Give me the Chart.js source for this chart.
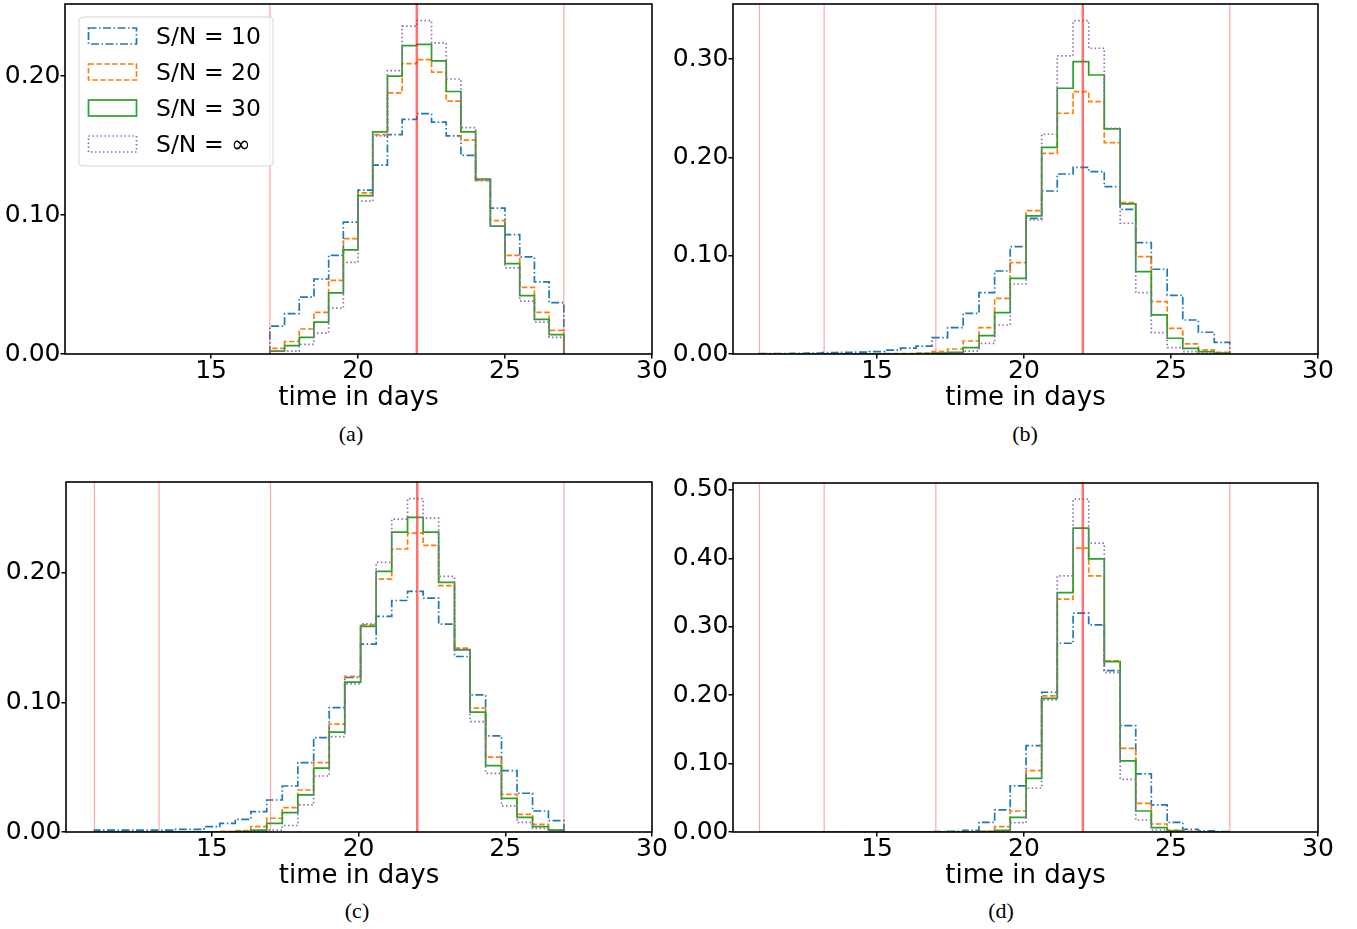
<!DOCTYPE html>
<html>
<head>
<meta charset="utf-8">
<script src="https://cdn.jsdelivr.net/npm/chart.js@4.4.0/dist/chart.umd.min.js"></script>
<style>
body { margin: 0; background: #fff; width: 1357px; height: 929px; position: relative; overflow: hidden; }
canvas { position: absolute; }
.cap { position: absolute; font-family: "Liberation Serif", "Times New Roman", serif; font-size: 22px; line-height: 22px; transform: translateX(-50%); color: #000; }
</style>
</head>
<body>
<canvas id="panel-a" width="668" height="420" style="left:0;top:0"></canvas>
<canvas id="panel-b" width="689" height="420" style="left:668px;top:0"></canvas>
<canvas id="panel-c" width="668" height="420" style="left:0;top:478px"></canvas>
<canvas id="panel-d" width="689" height="420" style="left:668px;top:478px"></canvas>
<div class="cap" style="left:351px;top:423px">(a)</div>
<div class="cap" style="left:1025px;top:423px">(b)</div>
<div class="cap" style="left:357px;top:900px">(c)</div>
<div class="cap" style="left:1001px;top:900px">(d)</div>
<script>
// bin edges (days)
const edgesA = [17, 17.5, 18, 18.5, 19, 19.5, 20, 20.5, 21, 21.5, 22, 22.5, 23, 23.5, 24, 24.5, 25, 25.5, 26, 26.5, 27];
const edgesBCD = [11, 11.53, 12.07, 12.6, 13.13, 13.67, 14.2, 14.73, 15.27, 15.8, 16.33, 16.87, 17.4, 17.93, 18.47, 19,
    19.53, 20.07, 20.6, 21.13, 21.67, 22.2, 22.73, 23.27, 23.8, 24.33, 24.87, 25.4, 25.93, 26.47, 27];

const seriesLabels = ['S/N = 10', 'S/N = 20', 'S/N = 30', 'S/N = \u221e'];

// (a)
const sn10A = [0.020, 0.029, 0.041, 0.054, 0.071, 0.095, 0.118, 0.136, 0.158, 0.169, 0.173, 0.167, 0.157, 0.143, 0.125, 0.105, 0.086, 0.070, 0.052, 0.037];
const sn20A = [0.004, 0.009, 0.018, 0.030, 0.053, 0.083, 0.116, 0.158, 0.188, 0.209, 0.212, 0.203, 0.182, 0.154, 0.125, 0.096, 0.071, 0.048, 0.030, 0.017];
const sn30A = [0.002, 0.006, 0.012, 0.023, 0.044, 0.075, 0.114, 0.160, 0.200, 0.222, 0.223, 0.211, 0.189, 0.160, 0.126, 0.092, 0.065, 0.042, 0.025, 0.014];
const snInfA = [0.002, 0.002, 0.007, 0.015, 0.033, 0.066, 0.110, 0.157, 0.204, 0.236, 0.240, 0.224, 0.198, 0.163, 0.126, 0.092, 0.062, 0.038, 0.023, 0.012];

// (b)
const sn10B = [0.0005, 0.0005, 0.0007, 0.001, 0.0013, 0.0017, 0.002, 0.0025, 0.004, 0.006, 0.008, 0.0166, 0.0268, 0.0414, 0.0624,
    0.0844, 0.1092, 0.138, 0.1658, 0.1831, 0.1899, 0.1855, 0.1702, 0.1472, 0.1132, 0.0862, 0.0597, 0.0346, 0.0221, 0.0119];
const sn20B = [0, 0, 0, 0, 0, 0, 0, 0, 0.0003, 0.0005, 0.001, 0.0024, 0.0051, 0.0132, 0.0268,
    0.0566, 0.0929, 0.1458, 0.2041, 0.2449, 0.2669, 0.2567, 0.215, 0.1539, 0.099, 0.0532, 0.0261, 0.0102, 0.0041, 0.0017];
const sn30B = [0, 0, 0, 0, 0, 0, 0, 0, 0, 0, 0.0003, 0.0008, 0.0017, 0.0064, 0.0187,
    0.042, 0.077, 0.1404, 0.2102, 0.2703, 0.2974, 0.2838, 0.2289, 0.1526, 0.0837, 0.0397, 0.016, 0.0058, 0.0024, 0.001];
const snInfB = [0, 0, 0, 0, 0, 0, 0, 0, 0, 0, 0, 0.0003, 0.001, 0.003, 0.0109,
    0.0295, 0.0712, 0.1363, 0.2235, 0.3032, 0.339, 0.311, 0.2296, 0.133, 0.0624, 0.0217, 0.0064, 0.0024, 0.001, 0.0005];

// (c)
const sn10C = [0.0015, 0.0015, 0.0015, 0.0015, 0.0015, 0.002, 0.002, 0.0041, 0.0067, 0.0098, 0.0157, 0.0247, 0.0355, 0.0535, 0.0728,
    0.096, 0.1192, 0.1449, 0.1663, 0.1786, 0.1856, 0.1804, 0.1604, 0.1354, 0.1058, 0.0741, 0.0473, 0.0299, 0.0162, 0.0087];
const sn20C = [0, 0, 0, 0, 0, 0, 0, 0, 0.0005, 0.001, 0.0041, 0.0106, 0.0188, 0.0324, 0.0535,
    0.0832, 0.12, 0.1598, 0.1951, 0.2183, 0.2306, 0.2211, 0.19, 0.1418, 0.0955, 0.0577, 0.0291, 0.0136, 0.0059, 0.0015];
const sn30C = [0, 0, 0, 0, 0, 0, 0, 0, 0, 0.0005, 0.0015, 0.0067, 0.0149, 0.0286, 0.0492,
    0.077, 0.1156, 0.1586, 0.201, 0.2314, 0.2427, 0.2314, 0.1925, 0.1405, 0.0924, 0.0512, 0.026, 0.0113, 0.0041, 0.0015];
const snInfC = [0, 0, 0, 0, 0, 0, 0, 0, 0, 0, 0.0005, 0.0015, 0.005, 0.021, 0.0432,
    0.0736, 0.1143, 0.1606, 0.208, 0.2414, 0.2571, 0.2422, 0.1972, 0.1411, 0.0852, 0.0453, 0.0201, 0.0075, 0.0028, 0.001];

// (d)
const sn10D = [0, 0, 0, 0, 0, 0, 0, 0, 0, 0, 0, 0.0005, 0.001, 0.0024, 0.0141,
    0.0322, 0.0673, 0.1262, 0.2042, 0.2758, 0.3197, 0.3026, 0.2359, 0.1555, 0.0848, 0.0395, 0.0141, 0.0039, 0.0015, 0.0005];
const sn20D = [0, 0, 0, 0, 0, 0, 0, 0, 0, 0, 0, 0, 0, 0.0005, 0.001,
    0.0078, 0.0307, 0.0897, 0.1988, 0.3402, 0.4147, 0.3743, 0.25, 0.1223, 0.0419, 0.0117, 0.0029, 0.001, 0, 0];
const sn30D = [0, 0, 0, 0, 0, 0, 0, 0, 0, 0, 0, 0, 0, 0, 0.0005,
    0.0024, 0.0214, 0.0785, 0.1954, 0.3499, 0.444, 0.3991, 0.249, 0.1038, 0.0307, 0.0063, 0.0015, 0, 0, 0];
const snInfD = [0, 0, 0, 0, 0, 0, 0, 0, 0, 0, 0, 0, 0, 0, 0,
    0.001, 0.0136, 0.0639, 0.193, 0.3743, 0.4864, 0.422, 0.2329, 0.077, 0.0175, 0.0029, 0.0005, 0, 0, 0];

const xTicks = [15, 20, 25, 30];
const yTicksA = [0, 0.1, 0.2];
const yTicksB = [0, 0.1, 0.2, 0.3];
const yTicksC = [0, 0.1, 0.2];
const yTicksD = [0, 0.1, 0.2, 0.3, 0.4, 0.5];

// marker lines (days)
const truthDay = 22;
const windowDaysA = [17, 27];
const windowDaysB = [11, 13.2, 17, 27];

const seriesColors = ['#1f77b4', '#ff7f0e', '#2ca02c', '#9467bd'];
const seriesDashes = [[8, 2.5, 1.5, 2.5], [5.5, 2.4], [], [1.5, 2.5]];

Chart.defaults.font.family = '"DejaVu Sans", sans-serif';
Chart.defaults.color = '#000';

function histPoints(edges, values) {
    var pts = [{x: edges[0], y: 0}];
    for (var i = 0; i < values.length; i++) {
        pts.push({x: edges[i], y: values[i]});
    }
    pts.push({x: edges[edges.length - 1], y: 0});
    return pts;
}

function drawLegend(chart) {
    const ctx = chart.ctx, a = chart.chartArea;
    const x0 = a.left + 14, y0 = a.top + 13;
    ctx.save();
    ctx.beginPath();
    ctx.roundRect(x0, y0, 194, 149, 4);
    ctx.fillStyle = 'rgba(255,255,255,0.8)';
    ctx.fill();
    ctx.strokeStyle = 'rgba(204,204,204,0.8)';
    ctx.lineWidth = 1;
    ctx.stroke();
    chart.data.datasets.forEach(function (ds, i) {
        const cy = y0 + 19 + i * 36;
        ctx.setLineDash(ds.borderDash);
        ctx.strokeStyle = ds.borderColor;
        ctx.lineWidth = 1.7;
        ctx.strokeRect(x0 + 9.5, cy - 8, 48, 16);
        ctx.setLineDash([]);
        ctx.fillStyle = '#000';
        ctx.font = '23.5px "DejaVu Sans"';
        ctx.textBaseline = 'middle';
        ctx.textAlign = 'left';
        ctx.fillText(ds.label, x0 + 77, cy + 2);
    });
    ctx.restore();
}

const panelDecor = {
    id: 'panelDecor',
    afterDatasetsDraw(chart, args, opts) {
        const ctx = chart.ctx, a = chart.chartArea, xs = chart.scales.x;
        ctx.save();
        ctx.beginPath();
        ctx.rect(a.left, a.top, a.width, a.height);
        ctx.clip();
        opts.windows.forEach(function (d) {
            const px = xs.getPixelForValue(d);
            ctx.strokeStyle = 'rgba(255,60,60,0.45)';
            ctx.lineWidth = 1.2;
            ctx.beginPath(); ctx.moveTo(px, a.top); ctx.lineTo(px, a.bottom); ctx.stroke();
        });
        const tx = xs.getPixelForValue(opts.truth);
        ctx.strokeStyle = 'rgba(255,40,40,0.65)';
        ctx.lineWidth = 2.5;
        ctx.beginPath(); ctx.moveTo(tx, a.top); ctx.lineTo(tx, a.bottom); ctx.stroke();
        ctx.restore();
        if (opts.legend) drawLegend(chart);
        ctx.save();
        ctx.strokeStyle = '#000';
        ctx.lineWidth = 1.6;
        ctx.strokeRect(a.left, a.top, a.width, a.height);
        ctx.restore();
    }
};

function makePanel(id, edges, series, yMax, yTicks, xMin, pad, windows, legend) {
    const canvas = document.getElementById(id);
    const W = canvas.width, H = canvas.height;
    const datasets = series.map(function (vals, i) {
        return {
            label: seriesLabels[i],
            data: histPoints(edges, vals),
            borderColor: seriesColors[i],
            backgroundColor: seriesColors[i],
            borderDash: seriesDashes[i],
            borderWidth: 1.7,
            pointRadius: 0,
            stepped: true,
            tension: 0,
            fill: false,
            order: 3 - i
        };
    });
    return new Chart(canvas.getContext('2d'), {
        type: 'line',
        data: {datasets: datasets},
        plugins: [panelDecor],
        options: {
            responsive: false,
            animation: false,
            events: [],
            layout: {padding: {left: 0, top: pad.top, right: W - pad.right, bottom: 0}},
            plugins: {
                legend: {display: false},
                tooltip: {enabled: false},
                panelDecor: {windows: windows, truth: truthDay, legend: legend}
            },
            scales: {
                x: {
                    type: 'linear',
                    min: xMin,
                    max: 30,
                    afterBuildTicks: function (s) { s.ticks = xTicks.map(function (v) { return {value: v}; }); },
                    afterFit: function (s) { s.height = H - pad.bottom; s.paddingLeft = 0; s.paddingRight = 0; },
                    ticks: {font: {size: 25}, padding: -2, maxRotation: 0, callback: function (v) { return String(v); }},
                    grid: {display: true, drawOnChartArea: false, drawTicks: true, tickLength: 4.5, color: '#000', lineWidth: 1.5},
                    border: {display: false},
                    title: {display: true, text: 'time in days', font: {size: 26}, padding: {top: 0, bottom: 6.5}}
                },
                y: {
                    type: 'linear',
                    min: 0,
                    max: yMax,
                    afterBuildTicks: function (s) { s.ticks = yTicks.map(function (v) { return {value: v}; }); },
                    afterFit: function (s) { s.width = pad.left; s.paddingTop = 0; s.paddingBottom = 0; },
                    ticks: {font: {size: 25}, padding: 0, callback: function (v) { return v.toFixed(2); }},
                    grid: {display: true, drawOnChartArea: false, drawTicks: true, tickLength: 4.5, color: '#000', lineWidth: 1.5},
                    border: {display: false}
                }
            }
        }
    });
}

makePanel('panel-a', edgesA, [sn10A, sn20A, sn30A, snInfA], 0.252, yTicksA, 10.03,
    {left: 65, top: 4, right: 652, bottom: 354}, windowDaysA, true);
makePanel('panel-b', edgesBCD, [sn10B, sn20B, sn30B, snInfB], 0.356, yTicksB, 10.1,
    {left: 65, top: 4, right: 650, bottom: 354}, windowDaysB, false);
makePanel('panel-c', edgesBCD, [sn10C, sn20C, sn30C, snInfC], 0.27, yTicksC, 10.03,
    {left: 66, top: 4, right: 652, bottom: 354}, windowDaysB, false);
makePanel('panel-d', edgesBCD, [sn10D, sn20D, sn30D, snInfD], 0.51, yTicksD, 10.1,
    {left: 65, top: 5, right: 650, bottom: 354}, windowDaysB, false);
</script>
</body>
</html>
